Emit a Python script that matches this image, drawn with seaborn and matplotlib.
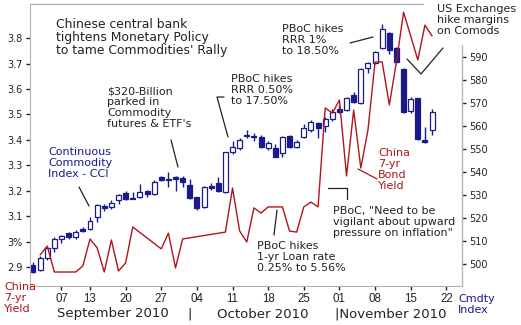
import numpy as np
import pandas as pd
import matplotlib
matplotlib.use("Agg")
import matplotlib.pyplot as plt
from matplotlib.lines import Line2D
import seaborn as sns

# ---------------- data ----------------
# trading days (US Labor Day, Sep 6, excluded)
trade_days = [d for d in pd.bdate_range("2010-08-31", "2010-11-22") if d != pd.Timestamp("2010-09-06")]

# Continuous Commodity Index candles (one per trading day from Aug 31)
cci_open = [499.6, 497.4, 502.6, 507.0, 510.9, 513.5, 511.7, 515.2, 515.2, 520.4,
            525.2, 524.8, 527.8, 530.9, 528.7, 529.1, 531.7, 530.4, 537.8, 537.0,
            537.8, 537.4, 534.3, 529.1, 524.8, 533.9, 535.2, 531.3, 548.7, 550.4,
            556.1, 555.7, 555.2, 550.4, 550.4, 548.3, 555.7, 550.9, 555.2, 558.3,
            561.3, 560.0, 563.0, 567.4, 567.0, 573.5, 570.0, 585.2, 587.4, 593.9,
            600.4, 593.9, 584.8, 566.5, 572.2, 553.9, 558.3]
cci_high = [500.9, 503.5, 507.4, 511.7, 512.6, 513.9, 514.8, 516.1, 520.4, 526.1,
            526.1, 527.8, 530.4, 531.7, 531.3, 534.8, 532.2, 536.5, 538.3, 540.0,
            538.3, 538.3, 537.0, 529.1, 533.9, 535.2, 537.8, 548.7, 553.5, 554.8,
            558.3, 557.0, 556.1, 553.5, 552.2, 555.7, 556.1, 553.9, 560.9, 562.6,
            561.7, 564.0, 567.4, 569.1, 572.6, 574.8, 585.2, 587.8, 592.6, 604.3,
            600.9, 594.3, 585.2, 572.6, 572.2, 559.6, 567.4]
cci_low = [496.1, 497.0, 501.7, 505.2, 509.1, 510.9, 510.9, 513.9, 514.8, 518.3,
           523.0, 523.9, 526.1, 527.8, 528.3, 528.7, 529.1, 530.0, 536.1, 533.5,
           531.7, 533.5, 528.3, 523.5, 524.5, 532.2, 531.3, 530.9, 547.8, 549.6,
           554.8, 553.5, 550.4, 549.6, 546.3, 546.5, 550.4, 550.4, 554.8, 557.4,
           554.8, 557.4, 562.2, 565.7, 566.5, 570.0, 569.6, 583.0, 587.0, 593.5,
           591.3, 587.4, 565.7, 565.7, 553.9, 552.6, 556.1]
cci_close = [496.5, 502.6, 507.0, 510.9, 512.2, 511.7, 513.9, 514.3, 518.7, 525.7,
             524.3, 526.5, 530.0, 528.3, 528.3, 531.3, 530.4, 535.7, 536.5, 536.5,
             537.0, 535.7, 528.7, 524.3, 533.5, 533.0, 531.7, 548.7, 550.9, 553.9,
             555.7, 555.2, 550.9, 552.6, 546.5, 555.2, 550.9, 553.0, 559.1, 561.7,
             559.1, 563.0, 566.1, 566.1, 572.2, 570.4, 584.8, 587.4, 592.2, 602.2,
             593.0, 587.8, 566.1, 571.7, 554.3, 553.0, 566.1]

# China 7-yr bond yield (trading-day index, value in %)
yield_day = [1, 2, 3, 6, 7, 8, 9, 10, 11, 12, 13, 14, 18, 19, 20, 21, 27, 28, 29, 30,
             31, 32, 33, 34, 35, 36, 37, 38, 39, 40, 41, 42, 43, 44, 45, 46, 47, 48,
             49, 50, 51, 52, 53, 54, 55, 56]
yield_val = [2.947, 2.982, 2.880, 2.880, 2.904, 3.010, 2.975, 2.880, 3.006, 2.884,
             2.916, 3.057, 2.971, 3.033, 2.896, 3.010, 3.037, 3.210, 3.041, 2.998,
             3.132, 3.112, 3.136, 3.136, 3.136, 3.041, 3.037, 3.136, 3.155, 3.136,
             3.525, 3.505, 3.556, 3.258, 3.517, 3.289, 3.438, 3.706, 3.706, 3.537,
             3.706, 3.902, 3.808, 3.714, 3.851, 3.808]

# axis ticks
yield_ticks = [2.9, 3.0, 3.1, 3.2, 3.3, 3.4, 3.5, 3.6, 3.7, 3.8]
yield_tick_labels = ["2.9", "3%", "3.1", "3.2", "3.3", "3.4", "3.5", "3.6", "3.7", "3.8"]
cci_ticks = [500, 510, 520, 530, 540, 550, 560, 570, 580, 590]
tick_dates = ["2010-09-07", "2010-09-13", "2010-09-20", "2010-09-27", "2010-10-04",
              "2010-10-11", "2010-10-18", "2010-10-25", "2010-11-01", "2010-11-08",
              "2010-11-15", "2010-11-22"]

# ---------------- style ----------------
sns.set_style("white")
plt.rcParams["font.family"] = ["DejaVu Sans"]

W, H = 521, 325
NAVY = "#1a1a8c"
RED = "#b0141e"
DARK = "#222222"
GRID = "#b4b4b4"

def fx(x):
    return x / W

def fy(y):
    return 1 - y / H

fig = plt.figure(figsize=(W / 100, H / 100), dpi=100)
fig.patch.set_facecolor("white")
ax = fig.add_axes([fx(30), fy(286), (462 - 30) / W, (286 - 4) / H])
ax2 = ax.twinx()

# candles on right axis
xs = np.arange(len(cci_open))
o = np.array(cci_open); c = np.array(cci_close)
hi = np.array(cci_high); lo = np.array(cci_low)
down = c < o
ax2.vlines(xs, lo, hi, color=NAVY, lw=1.0, zorder=2)
bottoms = np.minimum(o, c)
heights = np.maximum(np.abs(c - o), 0.35)
ax2.bar(xs, heights, bottom=bottoms, width=0.7,
        color=np.where(down, NAVY, "white"), edgecolor=NAVY, linewidth=0.9, zorder=3)

# yield line on left axis (drawn above candles)
ax.set_zorder(ax2.get_zorder() + 1)
ax.patch.set_visible(False)
sns.lineplot(x=yield_day, y=yield_val, ax=ax, color=RED, lw=1.0, sort=False)

# limits
ax.set_xlim(-0.42, 60.2)
ax.set_ylim(2.825, 3.934)
ax2.set_ylim(490.4, 613.0)

# ticks
day_index = {d.strftime("%Y-%m-%d"): i for i, d in enumerate(trade_days)}
tpos = [day_index[d] for d in tick_dates]
ax.set_xticks(tpos)
ax.set_xticklabels([d[-2:] for d in tick_dates], fontsize=8.3, color=DARK,
                   family=["Liberation Sans", "DejaVu Sans"])
ax.set_yticks(yield_ticks)
ax.set_yticklabels(yield_tick_labels, fontsize=7, color=DARK)
ax2.set_yticks(cci_ticks)
ax2.set_yticklabels([str(v) for v in cci_ticks], fontsize=7, color=DARK)
ax.tick_params(axis="y", direction="out", length=3, width=1, color=DARK, pad=2, left=True)
ax.tick_params(axis="x", direction="out", length=3, width=1, color=DARK, pad=2, bottom=True)
ax2.tick_params(axis="y", direction="out", length=3, width=1, color=DARK, pad=2.5, right=True)
ax.set_xlabel(""); ax.set_ylabel(""); ax2.set_ylabel("")

for a in (ax, ax2):
    for s in a.spines.values():
        s.set_visible(False)
ax.spines["left"].set_visible(True)
ax.spines["bottom"].set_visible(True)
ax.spines["left"].set_color(GRID)
ax.spines["bottom"].set_color(GRID)

# partial top and right frame
fig.add_artist(Line2D([fx(30), fx(423)], [fy(4), fy(4)], color=GRID, lw=1))
fig.add_artist(Line2D([fx(462), fx(462)], [fy(45), fy(286)], color=GRID, lw=1))

# ---------------- annotations ----------------
def note(x, y, s, color=DARK, size=8, ls=1.13, ha="left"):
    fig.text(fx(x), fy(y), s, color=color, fontsize=size, ha=ha, va="top",
             linespacing=ls)

def seg(pts, color=DARK, lw=0.9):
    fig.add_artist(Line2D([fx(p[0]) for p in pts], [fy(p[1]) for p in pts],
                          color=color, lw=lw))

note(56, 18, "Chinese central bank\ntightens Monetary Policy\nto tame Commodities' Rally",
     size=8.9, ls=1.02)
note(107, 86, "$320-Billion\nparked in\nCommodity\nfutures & ETF's")
seg([(171, 140), (178, 167)])
note(231, 74, "PBoC hikes\nRRR 0.50%\nto 17.50%")
seg([(224, 97), (217, 97), (228, 137)])
note(282, 24, "PBoC hikes\nRRR 1%\nto 18.50%")
seg([(350, 43), (373, 37)])
note(437, 4, "US Exchanges\nhike margins\non Comods")
seg([(407, 59), (421, 74), (443, 48)])
note(378, 148, "China\n7-yr\nBond\nYield", color=RED)
seg([(358, 169), (377, 179)], color=RED)
note(333, 206, "PBoC, \"Need to be\nvigilant about upward\npressure on inflation\"")
seg([(328, 188), (347, 188), (347, 199)])
note(257, 241, "PBoC hikes\n1-yr Loan rate\n0.25% to 5.56%")
seg([(277, 210), (274, 235)])
note(48, 147, "Continuous\nCommodity\nIndex - CCI", color=NAVY)
seg([(79, 187), (89, 206)])
note(4, 282, "China\n7-yr\nYield", color=RED)
note(458, 294, "Cmdty\nIndex", color=NAVY)

# month labels
fig.text(fx(113), fy(314), "September 2010", fontsize=9.5, color=DARK, ha="center", va="center")
fig.text(fx(190), fy(314), "|", fontsize=9.5, color=DARK, ha="center", va="center")
fig.text(fx(263), fy(314), "October 2010", fontsize=9.5, color=DARK, ha="center", va="center")
fig.text(fx(335), fy(314), "|November 2010", fontsize=9.5, color=DARK, ha="left", va="center")

fig.savefig("out.png", dpi=100, facecolor="white")
